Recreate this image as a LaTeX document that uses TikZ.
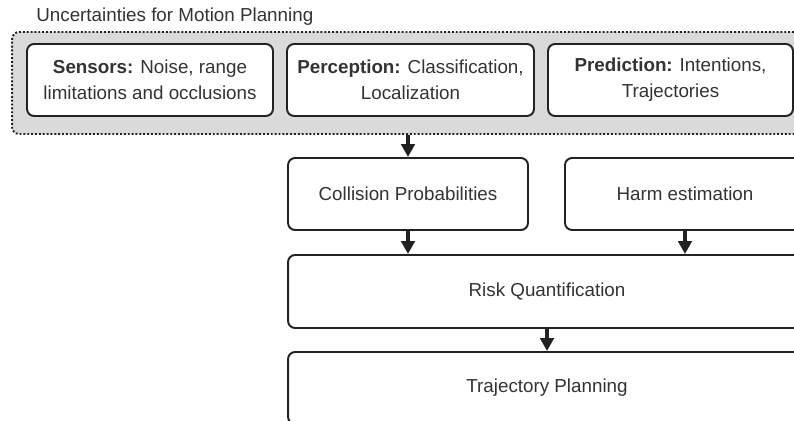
\documentclass[tikz,border=0pt]{standalone}
\usepackage{fontspec}
\setmainfont{Liberation Sans}
\usetikzlibrary{arrows.meta}

\definecolor{txtgray}{HTML}{333333}
\definecolor{linegray}{HTML}{222222}
\definecolor{groupfill}{HTML}{DADADA}

\begin{document}
\begin{tikzpicture}[
        x=0.02cm, y=-0.02cm,
        line join=round,
        font=\fontsize{10.7}{14.8}\selectfont,
        box/.style={draw=linegray, line width=1.1pt, fill=white, rounded corners=4pt,
            text=txtgray, align=center, inner sep=0pt,
            minimum height=1.44cm},
        group/.style={draw=linegray, line width=1.1pt, dash pattern=on 1.1pt off 1.1pt,
            fill=groupfill, rounded corners=4pt, minimum width=16.4cm, minimum height=2.04cm},
        arr/.style={draw=linegray, line width=2pt,
            -{Triangle[width=0.27cm, length=0.26cm]}}
    ]
        \useasboundingbox (0,0) rectangle (794,421);
        \clip (0,0) rectangle (794,421);

        \node[anchor=west, inner sep=0pt, text=txtgray] (title) at (36,17) {Uncertainties for Motion Planning};
        \node[group] (unc) at (422,83) {};

        \node[box, minimum width=4.92cm] (sensors) at (150,80) {\textbf{Sensors:} Noise, range\\limitations and occlusions};
        \node[box, minimum width=4.94cm] (perception) at (410.5,80) {\textbf{Perception:} Classification,\\Localization};
        \node[box, minimum width=4.9cm] (prediction) at (670.5,80) {\textbf{Prediction:} Intentions,\\Trajectories};

        \node[box, minimum width=4.8cm] (collision) at (408,194) {Collision Probabilities};
        \node[box, minimum width=4.8cm] (harm) at (685,194) {Harm estimation};

        \node[box, minimum width=10.36cm, minimum height=1.46cm] (risk) at (547,291.5) {Risk Quantification};
        \node[box, minimum width=10.36cm] (traj) at (547,388) {Trajectory Planning};

        \draw[arr] (collision.north |- unc.south) -- (collision.north);
        \draw[arr] (collision.south) -- (collision.south |- risk.north);
        \draw[arr] (harm.south) -- (harm.south |- risk.north);
        \draw[arr] (risk.south) -- (traj.north);
    \end{tikzpicture}
\end{document}
